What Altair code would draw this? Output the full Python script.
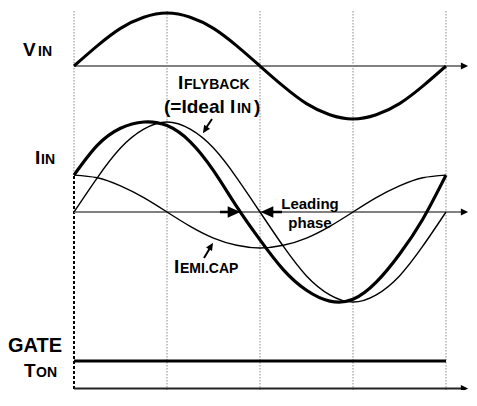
import altair as alt
import pandas as pd

# ---- data ----
# phase positions in quarter periods (grid lines at 0,1,2,3,4)
U = [0, 0.25, 0.5, 0.75, 1, 1.25, 1.5, 1.75, 2, 2.25, 2.5, 2.75, 3, 3.25, 3.5, 3.75, 4]
VIN = [0, 0.38, 0.71, 0.92, 1.0, 0.92, 0.71, 0.38, 0, -0.38, -0.71, -0.92, -1.0, -0.92, -0.71, -0.38, 0]
I_FLYBACK = [0, 0.38, 0.71, 0.92, 1.0, 0.92, 0.71, 0.38, 0, -0.38, -0.71, -0.92, -1.0, -0.92, -0.71, -0.38, 0]
I_IN = [0.41, 0.74, 0.93, 1.0, 0.96, 0.78, 0.46, 0.06, -0.31, -0.64, -0.87, -0.99, -0.97, -0.78, -0.47, -0.08, 0.41]
I_EMI = [0.41, 0.38, 0.29, 0.16, 0, -0.16, -0.29, -0.37, -0.40, -0.37, -0.29, -0.16, 0, 0.16, 0.29, 0.38, 0.41]
GRID = [1, 2, 3, 4]

# ---- layout (page pixels: x = 74 + 93*u) ----
XMIN, XMAX = -0.7097, 4.2473
YTOP, YBOT = 8, 390
VIN_BASE, VIN_AMP = 66, 53
IIN_BASE, IIN_AMP = 212, 90
GATE_Y = 361
BOT_Y = 388.5
FONT = "Liberation Sans"

xs = alt.Scale(domain=[XMIN, XMAX], nice=False, zero=False)
ys = alt.Scale(domain=[YBOT, YTOP], nice=False, zero=False)


def px(x):
    return (x - 74) / 93.0


AX_END = px(462)
HEAD_U = px(464.5)


def X(f="u"):
    return alt.X(f"{f}:Q", scale=xs, axis=None)


def Y(f="y"):
    return alt.Y(f"{f}:Q", scale=ys, axis=None)


def curve(vals, base, amp):
    return pd.DataFrame({"u": U, "y": [base - amp * v for v in vals]})


layers = []

# vertical dotted grid lines
grid = pd.DataFrame({"u": GRID, "y": [11] * 4, "y2": [YBOT] * 4})
layers.append(alt.Chart(grid).mark_rule(color="#8a8a8a", strokeWidth=1, strokeDash=[1.5, 1.5])
              .encode(x=X(), y=Y(), y2="y2:Q"))
layers.append(alt.Chart(pd.DataFrame({"u": [0], "y": [11], "y2": [176]}))
              .mark_rule(color="#8a8a8a", strokeWidth=1, strokeDash=[1.5, 1.5])
              .encode(x=X(), y=Y(), y2="y2:Q"))
layers.append(alt.Chart(pd.DataFrame({"u": [0], "y": [176], "y2": [YBOT]}))
              .mark_rule(color="black", strokeWidth=2, strokeDash=[3, 2])
              .encode(x=X(), y=Y(), y2="y2:Q"))

# axis lines
axes = pd.DataFrame({"u": [0, 0, 0], "u2": [AX_END] * 3, "y": [VIN_BASE, IIN_BASE, BOT_Y],
                     "c": ["#808080", "#808080", "#222222"]})
layers.append(alt.Chart(axes).mark_rule(strokeWidth=2)
              .encode(x=X(), x2="u2:Q", y=Y(), color=alt.Color("c:N", scale=None)))
heads = pd.DataFrame({"u": [HEAD_U] * 3, "y": [VIN_BASE, IIN_BASE, BOT_Y]})
layers.append(alt.Chart(heads).mark_point(shape="M-1,-1L1,0L-1,1Z", filled=True, opacity=1,
                                          color="black", size=52, strokeWidth=0)
              .encode(x=X(), y=Y()))

# waveforms
layers.append(alt.Chart(curve(VIN, VIN_BASE, VIN_AMP)).mark_line(color="black", strokeWidth=3,
                                                                 interpolate="natural")
              .encode(x=X(), y=Y()))
layers.append(alt.Chart(curve(I_FLYBACK, IIN_BASE, IIN_AMP)).mark_line(color="black", strokeWidth=1.4,
                                                                       interpolate="natural")
              .encode(x=X(), y=Y()))
layers.append(alt.Chart(curve(I_EMI, IIN_BASE, IIN_AMP)).mark_line(color="black", strokeWidth=1.4,
                                                                   interpolate="natural")
              .encode(x=X(), y=Y()))
layers.append(alt.Chart(curve(I_IN, IIN_BASE, IIN_AMP)).mark_line(color="black", strokeWidth=3.2,
                                                                  interpolate="natural")
              .encode(x=X(), y=Y()))

# gate line
layers.append(alt.Chart(pd.DataFrame({"u": [0], "u2": [4], "y": [GATE_Y]}))
              .mark_rule(color="black", strokeWidth=3).encode(x=X(), x2="u2:Q", y=Y()))

# annotation arrows (shafts)
shafts = pd.DataFrame({
    "u": [px(220), px(282), px(212), px(204)],
    "u2": [px(231), px(270), px(206), px(210)],
    "y": [IIN_BASE, IIN_BASE, 119, 258],
    "y2": [IIN_BASE, IIN_BASE, 128, 248],
    "w": [2.5, 2.5, 2, 2],
})
layers.append(alt.Chart(shafts).mark_rule(color="black")
              .encode(x=X(), x2="u2:Q", y=Y(), y2="y2:Q", strokeWidth=alt.StrokeWidth("w:Q", scale=None)))
big = pd.DataFrame({"u": [px(234), px(267)], "y": [IIN_BASE, IIN_BASE], "a": [0, 180]})
layers.append(alt.Chart(big).mark_point(shape="M-1,-0.9L1,0L-1,0.9Z", filled=True, opacity=1,
                                        color="black", size=160, strokeWidth=0)
              .encode(x=X(), y=Y(), angle=alt.Angle("a:Q", scale=None)))
small = pd.DataFrame({"u": [px(205), px(211)], "y": [130, 246], "a": [123, 301]})
layers.append(alt.Chart(small).mark_point(shape="M-1,-0.9L1,0L-1,0.9Z", filled=True, opacity=1,
                                          color="black", size=60, strokeWidth=0)
              .encode(x=X(), y=Y(), angle=alt.Angle("a:Q", scale=None)))

# text labels
texts = pd.DataFrame([
    {"u": px(23), "y": 56, "t": "V", "s": 19},
    {"u": px(38), "y": 56, "t": "IN", "s": 14},
    {"u": px(35), "y": 164, "t": "I", "s": 19},
    {"u": px(41), "y": 164, "t": "IN", "s": 14},
    {"u": px(178), "y": 89, "t": "I", "s": 19},
    {"u": px(184), "y": 89, "t": "FLYBACK", "s": 14},
    {"u": px(164), "y": 113, "t": "(=Ideal I", "s": 19},
    {"u": px(237), "y": 113, "t": "IN", "s": 14},
    {"u": px(254), "y": 113, "t": ")", "s": 19},
    {"u": px(174), "y": 273, "t": "I", "s": 19},
    {"u": px(180), "y": 273, "t": "EMI.CAP", "s": 14},
    {"u": px(8), "y": 352, "t": "GATE", "s": 20},
    {"u": px(24), "y": 377, "t": "T", "s": 19},
    {"u": px(36), "y": 377, "t": "ON", "s": 14},
])
layers.append(alt.Chart(texts).mark_text(align="left", baseline="alphabetic", font=FONT,
                                         fontWeight="bold", color="black")
              .encode(x=X(), y=Y(), text="t:N", size=alt.Size("s:Q", scale=None)))
lead = pd.DataFrame([
    {"u": px(310), "y": 209, "t": "Leading"},
    {"u": px(310), "y": 228, "t": "phase"},
])
layers.append(alt.Chart(lead).mark_text(align="center", baseline="alphabetic", font=FONT,
                                        fontWeight="bold", fontSize=15, color="black")
              .encode(x=X(), y=Y(), text="t:N"))

chart = alt.layer(*layers).properties(
    width=461, height=382, padding=0, autosize="none", background="white"
).configure_view(stroke=None)

chart.save("out.html", embed_options={"renderer": "svg", "actions": False})
